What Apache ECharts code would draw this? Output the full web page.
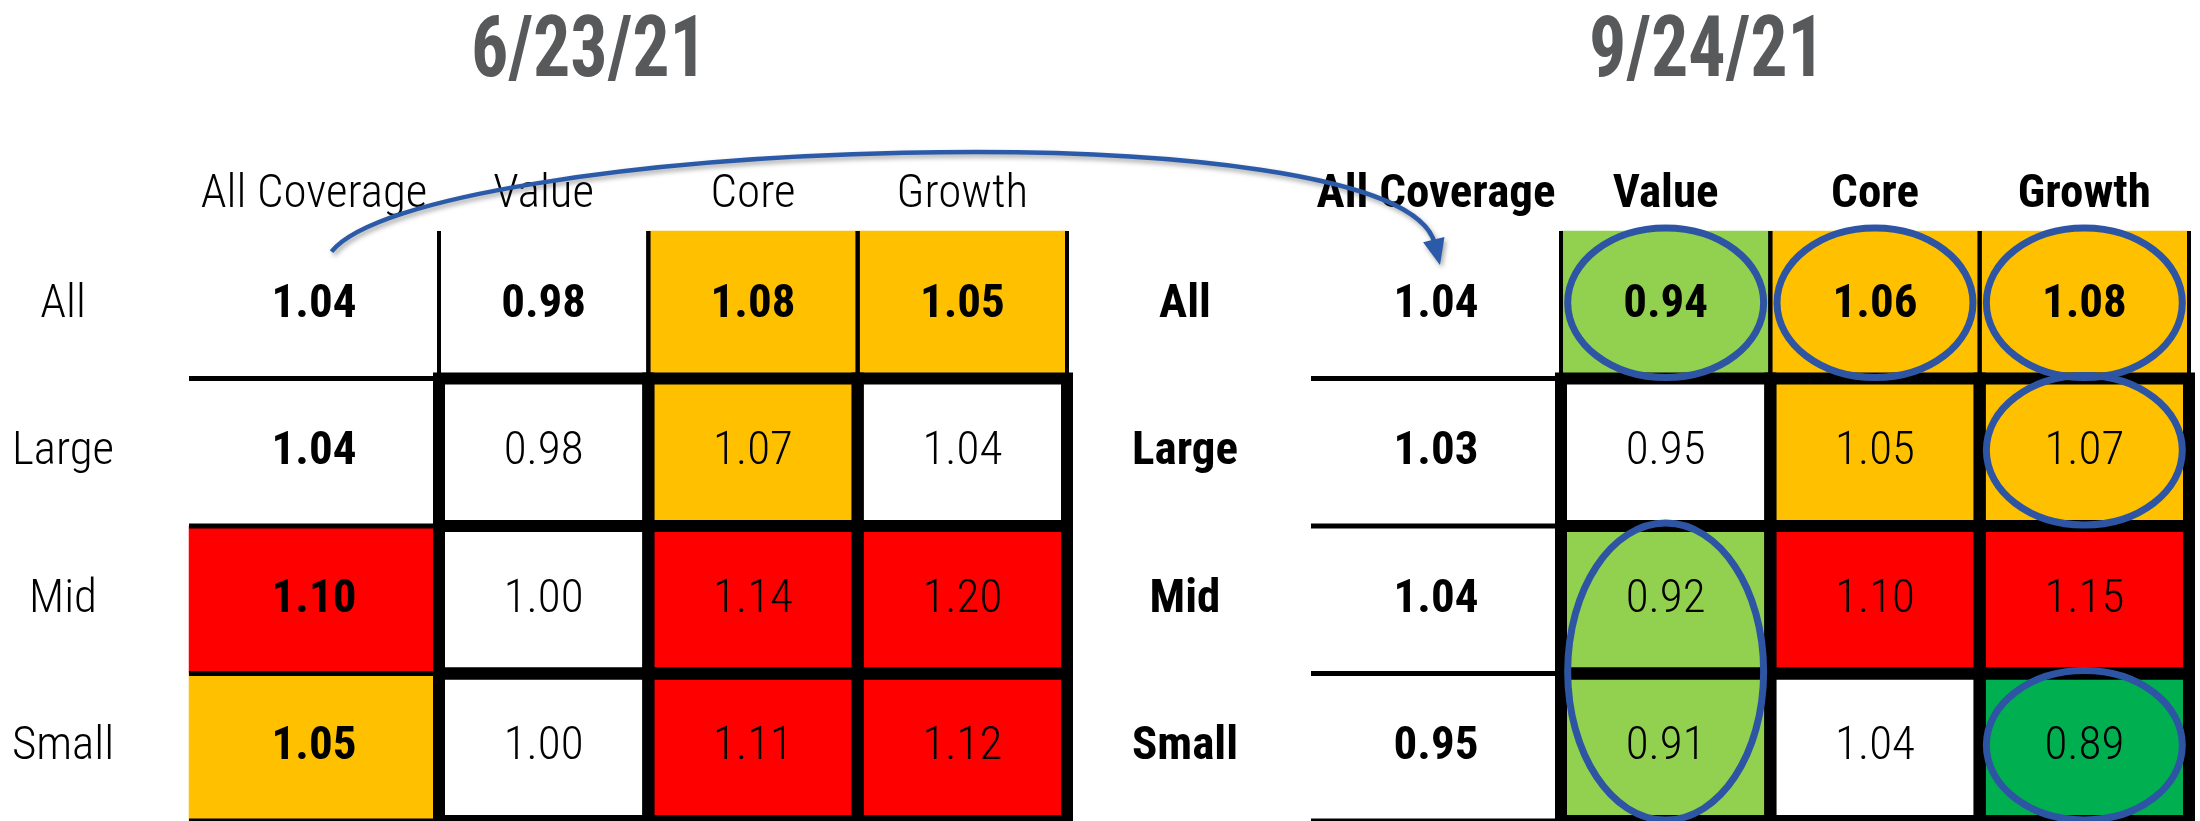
<!DOCTYPE html>
<html><head><meta charset="utf-8">
<script src="https://cdn.jsdelivr.net/npm/echarts@6/dist/echarts.min.js"></script>
<style>html,body{margin:0;padding:0;background:#fff}#c{width:2200px;height:821px}</style>
</head><body><div id="c"></div>
<script>
// ---------- data ----------
const dates = ['6/23/21', '9/24/21'];
const rows = ['All', 'Large', 'Mid', 'Small'];
const coverageCol = ['All Coverage'];
const styleCols = ['Value', 'Core', 'Growth'];

const juneAllCoverage = [1.04, 1.04, 1.10, 1.05];
const juneValue       = [0.98, 0.98, 1.00, 1.00];
const juneCore        = [1.08, 1.07, 1.14, 1.11];
const juneGrowth      = [1.05, 1.04, 1.20, 1.12];

const septAllCoverage = [1.04, 1.03, 1.04, 0.95];
const septValue       = [0.94, 0.95, 0.92, 0.91];
const septCore        = [1.06, 1.05, 1.10, 1.04];
const septGrowth      = [1.08, 1.07, 1.15, 0.89];

// circled cells in the 9/24/21 table: [column, first row, last row]
const circled = [
  ['Value', 'All', 'All'], ['Core', 'All', 'All'], ['Growth', 'All', 'All'],
  ['Growth', 'Large', 'Large'], ['Value', 'Mid', 'Small'], ['Growth', 'Small', 'Small']
];

// valuation bands (upper edges) and their colours
const bandEdges = [0.905, 0.945, 1.045, 1.095];
const bandColors = ['#00B050', '#92D050', '#FFFFFF', '#FFC000', '#FF0000'];

// ---------- layout / style ----------
const FONT = '"Roboto Condensed", Roboto, sans-serif';
const FS = 47;
const TOP = 231, H = 590, COVW = 250, STYW = 628;
const tables = [
  { x: 189, titleX: 589, bold: false, cov: juneAllCoverage, sty: [juneValue, juneCore, juneGrowth] },
  { x: 1311, titleX: 1707, bold: true, cov: septAllCoverage, sty: [septValue, septCore, septGrowth] }
];

const grids = [], xAxes = [], yAxes = [], series = [], heatIdx = [];
function axisLabelStyle(bold) {
  return { fontFamily: FONT, fontSize: FS, color: '#000', fontWeight: bold ? 'bold' : 300 };
}
tables.forEach((t, ti) => {
  const g0 = ti * 2, g1 = ti * 2 + 1;
  grids.push({ left: t.x, top: TOP, width: COVW, height: H });
  grids.push({ left: t.x + COVW, top: TOP, width: STYW, height: H });
  [[g0, coverageCol], [g1, styleCols]].forEach(([gi, cats]) => {
    xAxes.push({
      type: 'category', gridIndex: gi, data: cats, position: 'top',
      axisLine: { show: false }, axisTick: { show: false }, splitLine: { show: false },
      axisLabel: Object.assign({ margin: 12, interval: 0 }, axisLabelStyle(t.bold))
    });
    yAxes.push({
      type: 'category', gridIndex: gi, data: rows, inverse: true,
      axisLine: { show: false }, axisTick: { show: false }, splitLine: { show: false },
      axisLabel: Object.assign({ show: gi === g0, align: 'center', margin: 126 }, axisLabelStyle(t.bold))
    });
  });
  // heatmap cells
  const covData = rows.map((r, i) => ({ value: [0, i, t.cov[i]], label: { fontWeight: 'bold' } }));
  const styData = [];
  styleCols.forEach((c, ci) => rows.forEach((r, ri) => {
    styData.push({ value: [ci, ri, t.sty[ci][ri]], label: { fontWeight: ri === 0 ? 'bold' : 300 } });
  }));
  [[g0, covData], [g1, styData]].forEach(([gi, d]) => {
    heatIdx.push(series.length);
    series.push({
      type: 'heatmap', xAxisIndex: gi, yAxisIndex: gi, data: d, z: 2,
      label: { show: true, fontFamily: FONT, fontSize: FS, color: '#000',
               formatter: p => p.value[2].toFixed(2) },
      emphasis: { disabled: true }
    });
  });
  // table rules: All Coverage column
  series.push({
    type: 'custom', xAxisIndex: g0, yAxisIndex: g0, z: 3, silent: true,
    data: rows.map((r, i) => [0, i]),
    renderItem: (p, api) => {
      const c = api.coord([api.value(0), api.value(1)]), s = api.size([1, 1]);
      const x0 = c[0] - s[0] / 2, x1 = c[0] + s[0] / 2, y0 = c[1] - s[1] / 2, y1 = c[1] + s[1] / 2;
      const ch = [];
      if (api.value(1) >= 1) ch.push({ type: 'line', shape: { x1: x0, y1: y0, x2: x1, y2: y0 }, style: { stroke: '#000', lineWidth: 5 } });
      if (api.value(1) === rows.length - 1) ch.push({ type: 'line', shape: { x1: x0, y1: y1, x2: x1, y2: y1 }, style: { stroke: '#000', lineWidth: 5 } });
      return { type: 'group', children: ch };
    }
  });
  // table rules: style columns
  const cells = [];
  styleCols.forEach((c, ci) => rows.forEach((r, ri) => cells.push([ci, ri])));
  series.push({
    type: 'custom', xAxisIndex: g1, yAxisIndex: g1, z: 3, silent: true,
    data: cells,
    renderItem: (p, api) => {
      const c = api.coord([api.value(0), api.value(1)]), s = api.size([1, 1]);
      const x0 = c[0] - s[0] / 2, x1 = c[0] + s[0] / 2, y0 = c[1] - s[1] / 2, y1 = c[1] + s[1] / 2;
      if (api.value(1) === 0) {
        return { type: 'group', children: [
          { type: 'line', shape: { x1: x0, y1: y0, x2: x0, y2: y1 }, style: { stroke: '#000', lineWidth: 4 } },
          { type: 'line', shape: { x1: x1, y1: y0, x2: x1, y2: y1 }, style: { stroke: '#000', lineWidth: 4 } }
        ] };
      }
      return { type: 'rect', shape: { x: x0, y: y0, width: s[0], height: s[1] }, style: { fill: 'none', stroke: '#000', lineWidth: 12 } };
    }
  });
});

// circles on the 9/24/21 table
series.push({
  type: 'custom', xAxisIndex: 3, yAxisIndex: 3, z: 5, silent: true,
  data: circled.map(c => [styleCols.indexOf(c[0]), rows.indexOf(c[1]), rows.indexOf(c[2])]),
  encode: { x: 0, y: 1 },
  renderItem: (p, api) => {
    const col = api.value(0), r1 = api.value(1), r2 = api.value(2);
    const a = api.coord([col, r1]), b = api.coord([col, r2]), s = api.size([1, 1]);
    return { type: 'ellipse',
      shape: { cx: a[0], cy: (a[1] + b[1]) / 2 - 2, rx: s[0] * 0.468, ry: (r2 - r1 + 1) * s[1] / 2 + 1 },
      style: { fill: 'none', stroke: '#2D55A3', lineWidth: 7 } };
  }
});

const pieces = bandColors.map((col, i) => {
  const p = { color: col };
  if (i > 0) p.gte = bandEdges[i - 1];
  if (i < bandEdges.length) p.lt = bandEdges[i];
  return p;
});

const chart = echarts.init(document.getElementById('c'), null, { renderer: 'canvas' });
chart.setOption({
  animation: false,
  backgroundColor: '#fff',
  grid: grids, xAxis: xAxes, yAxis: yAxes,
  visualMap: { type: 'piecewise', show: false, dimension: 2, seriesIndex: heatIdx, pieces: pieces },
  series: series
});

// titles and the connecting arrow
const bh = H / rows.length;
const a = chart.convertToPixel({ gridIndex: 0 }, [0, 0]);
const b = chart.convertToPixel({ gridIndex: 2 }, [0, 0]);
const start = [a[0] + 0.07 * COVW, a[1] - 0.36 * bh];
const tip = [b[0] + 0.016 * COVW, b[1] - 0.27 * bh];
const cp1 = [start[0] + 89, start[1] - 112];
const cp2 = [tip[0] - 40, tip[1] - 162];
let dx = tip[0] - cp2[0], dy = tip[1] - cp2[1];
const dl = Math.hypot(dx, dy); dx /= dl; dy /= dl;
const base = [tip[0] - dx * 26, tip[1] - dy * 26];
const nx = -dy, ny = dx;
const shadow = { shadowBlur: 5, shadowColor: 'rgba(0,0,0,0.35)', shadowOffsetX: 2, shadowOffsetY: 3 };

chart.setOption({
  graphic: [
    ...tables.map((t, i) => ({
      type: 'text', x: t.titleX, y: 55, scaleX: 0.87,
      style: { text: dates[i], font: 'bold 85px ' + FONT, fill: '#58595B', align: 'center', verticalAlign: 'middle' }
    })),
    { type: 'bezierCurve', z: 10,
      shape: { x1: start[0], y1: start[1], cpx1: cp1[0], cpy1: cp1[1], cpx2: cp2[0], cpy2: cp2[1], x2: base[0] + dx * 4, y2: base[1] + dy * 4 },
      style: Object.assign({ stroke: '#2B5AA8', lineWidth: 4.5, fill: 'none' }, shadow) },
    { type: 'polygon', z: 10,
      shape: { points: [tip, [base[0] + nx * 11, base[1] + ny * 11], [base[0] - nx * 11, base[1] - ny * 11]] },
      style: Object.assign({ fill: '#2B5AA8' }, shadow) }
  ]
});
</script>
</body></html>
